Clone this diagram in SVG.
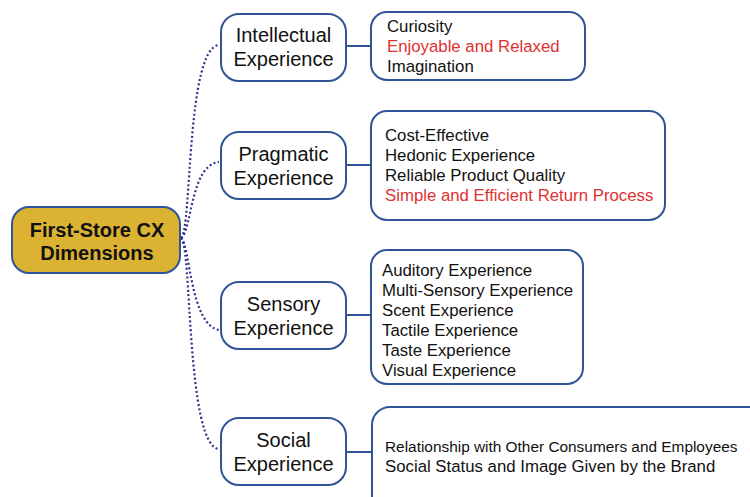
<svg xmlns="http://www.w3.org/2000/svg" width="750" height="497" viewBox="0 0 750 497">
  <style>
    .box { fill: #ffffff; stroke: #2f5597; stroke-width: 2; }
    .root { fill: #dcb232; stroke: #2f5597; stroke-width: 2; }
    .dot { fill: none; stroke: #2e3192; stroke-width: 2.2; stroke-dasharray: 2 2.4; }
    .link { fill: none; stroke: #2f5597; stroke-width: 2; }
    .label { font-family: "Liberation Sans", Arial, sans-serif; font-size: 20px; fill: #111111; text-anchor: middle; }
    .rootlabel { font-family: "Liberation Sans", Arial, sans-serif; font-size: 20px; font-weight: bold; fill: #111111; text-anchor: middle; }
    .item { font-family: "Liberation Sans", Arial, sans-serif; font-size: 16.8px; fill: #111111; }
    .red { fill: #e03131; }
  </style>

  <!-- connectors -->
  <g id="connectors">
    <path class="dot" d="M181,238 C192,232 186,48 219,45"/>
    <path class="dot" d="M181,238 C192,232 190,165 219,162"/>
    <path class="dot" d="M181,238 C190,244 190,325 219,330"/>
    <path class="dot" d="M181,238 C192,244 186,446 219,449"/>
    <line class="link" x1="346" y1="46" x2="371" y2="46"/>
    <line class="link" x1="346" y1="165" x2="371" y2="165"/>
    <line class="link" x1="346" y1="315" x2="371" y2="315"/>
    <line class="link" x1="346" y1="452" x2="372" y2="452"/>
  </g>

  <!-- root -->
  <g id="root">
    <rect class="root" x="12" y="207" width="168" height="66" rx="17"/>
    <text class="rootlabel" x="97" y="237">First-Store CX</text>
    <text class="rootlabel" x="97" y="260">Dimensions</text>
  </g>

  <!-- dimension nodes -->
  <g id="intellectual">
    <rect class="box" x="221" y="14" width="125" height="67" rx="18"/>
    <text class="label" x="283.5" y="42">Intellectual</text>
    <text class="label" x="283.5" y="66">Experience</text>
  </g>
  <g id="pragmatic">
    <rect class="box" x="221" y="132" width="125" height="67" rx="18"/>
    <text class="label" x="283.5" y="161">Pragmatic</text>
    <text class="label" x="283.5" y="185">Experience</text>
  </g>
  <g id="sensory">
    <rect class="box" x="221" y="282" width="125" height="67" rx="18"/>
    <text class="label" x="283.5" y="311">Sensory</text>
    <text class="label" x="283.5" y="335">Experience</text>
  </g>
  <g id="social">
    <rect class="box" x="221" y="418" width="125" height="67" rx="18"/>
    <text class="label" x="283.5" y="447">Social</text>
    <text class="label" x="283.5" y="471">Experience</text>
  </g>

  <!-- item lists -->
  <g id="intellectual-items">
    <rect class="box" x="371" y="12" width="214" height="68" rx="16"/>
    <text class="item" x="387" y="32">Curiosity</text>
    <text class="item red" x="387" y="52">Enjoyable and Relaxed</text>
    <text class="item" x="387" y="72">Imagination</text>
  </g>
  <g id="pragmatic-items">
    <rect class="box" x="371" y="111" width="294" height="109" rx="16"/>
    <text class="item" x="385" y="141">Cost-Effective</text>
    <text class="item" x="385" y="161">Hedonic Experience</text>
    <text class="item" x="385" y="181">Reliable Product Quality</text>
    <text class="item red" x="385" y="201">Simple and Efficient Return Process</text>
  </g>
  <g id="sensory-items">
    <rect class="box" x="371" y="250" width="212" height="134" rx="16"/>
    <text class="item" x="382" y="276">Auditory Experience</text>
    <text class="item" x="382" y="296">Multi-Sensory Experience</text>
    <text class="item" x="382" y="316">Scent Experience</text>
    <text class="item" x="382" y="336">Tactile Experience</text>
    <text class="item" x="382" y="356">Taste Experience</text>
    <text class="item" x="382" y="376">Visual Experience</text>
  </g>
  <g id="social-items">
    <rect class="box" x="372" y="407" width="410" height="120" rx="18"/>
    <text class="item" x="385" y="452" style="font-size:15.4px">Relationship with Other Consumers and Employees</text>
    <text class="item" x="385" y="472">Social Status and Image Given by the Brand</text>
  </g>
</svg>
